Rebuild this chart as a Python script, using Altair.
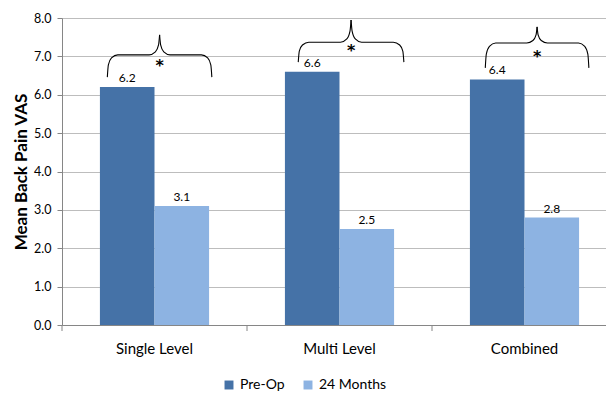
import altair as alt
import pandas as pd

# ---- data ----
groups = ["Single Level", "Multi Level", "Combined"]
series = ["Pre-Op", "24 Months"]
pre_op = [6.2, 6.6, 6.4]
months24 = [3.1, 2.5, 2.8]
colors = ["#4572A7", "#8DB3E2"]

# significance braces (x in category units, 0..3; y in VAS units)
brace_left = [0.245, 1.277, 2.288]
brace_right = [0.810, 1.848, 2.848]
brace_level = [7.04, 7.37, 7.35]
brace_end = [6.46, 6.85, 6.70]
brace_tip = [7.56, 7.95, 7.77]
star_y = [6.85, 7.24, 7.09]
star_text = ["*", "*", "*"]

cat_ticks = [0, 1, 2, 3]
y_ticks = [0, 1, 2, 3, 4, 5, 6, 7, 8]

W, H = 555, 307
FONT = "Lato"

bars_df = pd.DataFrame({
    "group": groups * 2,
    "series": [series[0]] * 3 + [series[1]] * 3,
    "value": pre_op + months24,
})

# build brace outlines from the read values
fx = [0.0, 0.01, 0.04, 0.10, 0.40, 0.46, 0.49, 0.5]
rows = []
for i in range(len(groups)):
    L, R = brace_left[i], brace_right[i]
    lv, en, tp = brace_level[i], brace_end[i], brace_tip[i]
    lo = lv - en
    hi = tp - lv
    fy = [en, lv - 0.45 * lo, lv - 0.14 * lo, lv, lv, lv + 0.15 * hi, lv + 0.5 * hi, tp]
    for k, (a, b) in enumerate(zip(fx, fy)):
        rows.append({"seg": f"{i}L", "ord": k, "u": L + a * (R - L), "v": b})
        rows.append({"seg": f"{i}R", "ord": k, "u": R - a * (R - L), "v": b})
brace_df = pd.DataFrame(rows)
star_df = pd.DataFrame({
    "u": [(l + r) / 2 for l, r in zip(brace_left, brace_right)],
    "v": star_y,
    "t": star_text,
})
tick_df = pd.DataFrame({"u": cat_ticks})

yscale = alt.Scale(domain=[0, 8], nice=False)
qx = alt.Scale(domain=[0, 3], nice=False, zero=False)
xband = alt.Scale(domain=groups, paddingInner=0.41, paddingOuter=0.205)
offscale = alt.Scale(domain=series, paddingInner=0, paddingOuter=0)

y_axis = alt.Axis(title="Mean Back Pain VAS", values=y_ticks, format=".1f",
                  tickCount=9, labelOverlap=False,
                  titleFontSize=17, titleFontWeight="bold", titleFont=FONT,
                  titleColor="#000000", titleX=-32, titleY=H / 2,
                  labelFontSize=12.5, labelFont=FONT, labelColor="#000000",
                  labelPadding=6, tickSize=5, tickColor="#868686",
                  domainColor="#868686", gridColor="#BDBDBD")

bars = alt.Chart(bars_df).mark_bar().encode(
    x=alt.X("group:N", scale=xband, sort=groups,
            axis=alt.Axis(title=None, labelAngle=0, ticks=False, domain=True,
                          domainColor="#868686", labelFontSize=15, labelPadding=16,
                          labelColor="#000000", labelFont=FONT, grid=False)),
    xOffset=alt.XOffset("series:N", sort=series, scale=offscale),
    y=alt.Y("value:Q", scale=yscale, axis=y_axis),
    color=alt.Color("series:N", sort=series,
                    scale=alt.Scale(domain=series, range=colors),
                    legend=alt.Legend(title=None, orient="none", direction="horizontal",
                                      legendX=160, legendY=360, symbolType="square",
                                      symbolSize=80, symbolStrokeWidth=0,
                                      labelFontSize=14, labelFont=FONT,
                                      labelColor="#000000", columnPadding=16,
                                      symbolOffset=0)),
)

labels = alt.Chart(bars_df).mark_text(dy=-9, fontSize=12, font=FONT, color="#000000").encode(
    x=alt.X("group:N", scale=xband, sort=groups, axis=None),
    xOffset=alt.XOffset("series:N", sort=series, scale=offscale),
    y=alt.Y("value:Q", scale=yscale, axis=y_axis),
    text=alt.Text("value:Q", format=".1f"),
)

braces = alt.Chart(brace_df).mark_line(color="#000000", strokeWidth=1.1, interpolate="monotone").encode(
    x=alt.X("u:Q", scale=qx, axis=None),
    y=alt.Y("v:Q", scale=yscale, axis=y_axis),
    detail="seg:N",
    order="ord:Q",
)

stars = alt.Chart(star_df).mark_text(fontSize=16, fontWeight="bold", font="DejaVu Sans",
                                     color="#000000", baseline="middle", dy=4).encode(
    x=alt.X("u:Q", scale=qx, axis=None),
    y=alt.Y("v:Q", scale=yscale, axis=y_axis),
    text="t:N",
)

xticks = alt.Chart(tick_df).mark_rule(color="#868686", strokeWidth=1).encode(
    x=alt.X("u:Q", scale=qx, axis=None),
    y=alt.value(H),
    y2=alt.value(H + 6),
)

chart = alt.layer(bars, labels, braces, stars, xticks).resolve_scale(
    x="independent"
).properties(
    width=W, height=H,
    autosize=alt.AutoSizeParams(type="none"),
    padding={"left": 54, "top": 10, "right": -11, "bottom": 78},
).configure_view(stroke=None).configure(background="#ffffff")

chart.save("out.html", embed_options={"renderer": "svg", "actions": False})
